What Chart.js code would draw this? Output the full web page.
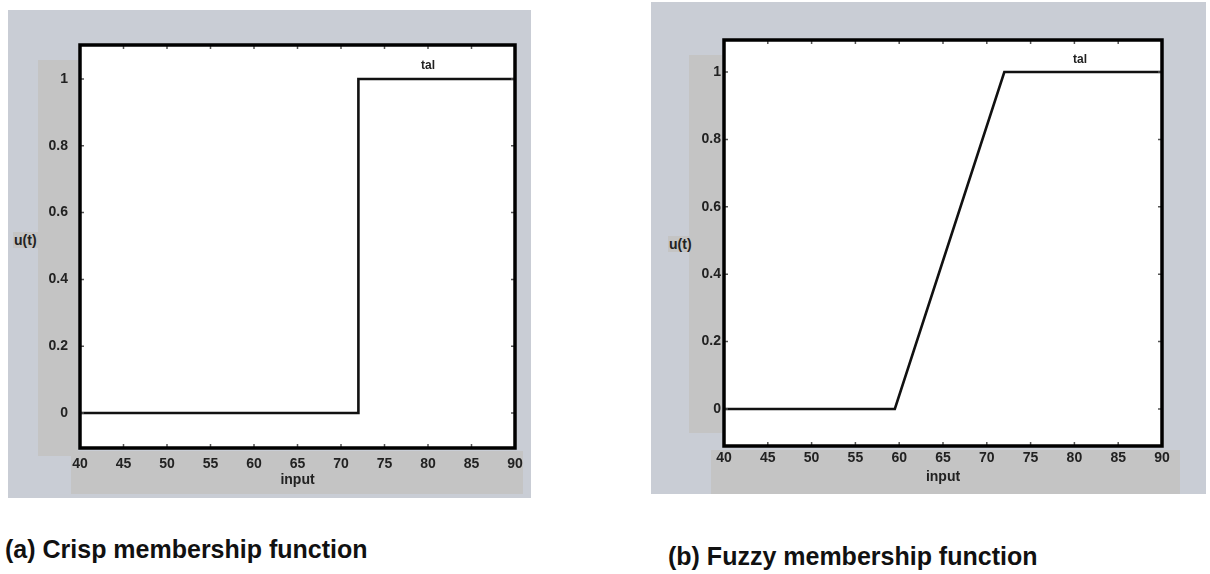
<!DOCTYPE html>
<html>
<head>
<meta charset="utf-8">
<script src="https://cdn.jsdelivr.net/npm/chart.js@4.4.1/dist/chart.umd.min.js"></script>
<style>
  html, body { margin:0; padding:0; background:#ffffff; }
  body { width:1210px; height:574px; position:relative; overflow:hidden; font-family:"Liberation Sans", Arial, sans-serif; }
  .abs { position:absolute; }
  .outer { background:#c9cdd5; }
  .strip { background:#c4c4c4; }
  .lbl { font-weight:bold; font-size:14px; color:#222; white-space:nowrap; }
  .tal { font-weight:bold; font-size:12px; color:#222; white-space:nowrap; }
  .cap { font-weight:bold; font-size:25px; color:#111; white-space:nowrap; }
  canvas { position:absolute; }
</style>
</head>
<body>
  <!-- panel (a) -->
  <div class="abs outer" style="left:8px;top:10px;width:523px;height:488px;"></div>
  <div class="abs strip" style="left:38px;top:60px;width:40px;height:396px;"></div>
  <div class="abs strip" style="left:71px;top:451px;width:452px;height:43px;"></div>
  <div class="abs lbl" style="left:13px;top:232px;background:#c4c4c4;padding:0 1px;">u(t)</div>
  <canvas id="c1" width="540" height="489" style="left:0;top:0;"></canvas>
  <div class="abs tal" style="left:421px;top:58px;">tal</div>
  <div class="abs cap" style="left:5px;top:535px;">(a) Crisp membership function</div>

  <!-- panel (b) -->
  <div class="abs outer" style="left:651px;top:2px;width:555px;height:492px;"></div>
  <div class="abs strip" style="left:689px;top:55px;width:33px;height:378px;"></div>
  <div class="abs strip" style="left:711px;top:450px;width:469px;height:44px;"></div>
  <div class="abs lbl" style="left:668px;top:236px;background:#c4c4c4;padding:0 1px;">u(t)</div>
  <canvas id="c2" width="570" height="486" style="left:640px;top:0;"></canvas>
  <div class="abs tal" style="left:1073px;top:52px;">tal</div>
  <div class="abs cap" style="left:668px;top:542px;">(b) Fuzzy membership function</div>

<script>
// ---- data ----
const xTickValues = [40, 45, 50, 55, 60, 65, 70, 75, 80, 85, 90];
const yTickValues = [0, 0.2, 0.4, 0.6, 0.8, 1];
const yTickLabels = ["0", "0.2", "0.4", "0.6", "0.8", "1"];
const crispX = [40, 72, 72, 90];
const crispY = [0, 0, 1, 1];
const fuzzyX = [40, 59.5, 72, 90];
const fuzzyY = [0, 0, 1, 1];
const xTitle = "input";

const FONT = "'Liberation Sans', Arial, sans-serif";

const framePlugin = {
  id: 'frame',
  beforeDraw(chart) {
    const {ctx, chartArea:a} = chart;
    ctx.save();
    ctx.fillStyle = '#ffffff';
    ctx.fillRect(a.left, a.top, a.right - a.left, a.bottom - a.top);
    ctx.restore();
  },
  afterDraw(chart) {
    const {ctx, chartArea:a, scales} = chart;
    ctx.save();
    ctx.strokeStyle = '#555';
    ctx.lineWidth = 1.5;
    const L = 4;
    scales.x.ticks.forEach(t => {
      const px = scales.x.getPixelForValue(t.value);
      ctx.beginPath();
      ctx.moveTo(px, a.top); ctx.lineTo(px, a.top + L);
      ctx.moveTo(px, a.bottom); ctx.lineTo(px, a.bottom - L);
      ctx.stroke();
    });
    scales.y.ticks.forEach(t => {
      const py = scales.y.getPixelForValue(t.value);
      ctx.beginPath();
      ctx.moveTo(a.left, py); ctx.lineTo(a.left + L, py);
      ctx.moveTo(a.right, py); ctx.lineTo(a.right - L, py);
      ctx.stroke();
    });
    ctx.strokeStyle = '#000';
    ctx.lineWidth = 3.5;
    ctx.strokeRect(a.left, a.top, a.right - a.left, a.bottom - a.top);
    ctx.restore();
  }
};

function makeChart(id, xs, ys, cfg) {
  const pts = xs.map((x, i) => ({x: x, y: ys[i]}));
  return new Chart(document.getElementById(id), {
    type: 'line',
    data: { datasets: [{
      label: 'tal', data: pts,
      borderColor: '#111', borderWidth: 2.6, pointRadius: 0, tension: 0, fill: false
    }]},
    options: {
      responsive: false, animation: false,
      layout: { padding: { left: 0, right: cfg.padRight, top: cfg.padTop, bottom: 0 } },
      plugins: { legend: { display: false }, tooltip: { enabled: false } },
      scales: {
        x: {
          type: 'linear', min: 40, max: 90,
          afterBuildTicks: s => { s.ticks = xTickValues.map(v => ({value: v})); },
          afterFit: s => { s.height = cfg.xHeight; },
          grid: { display: false, drawTicks: false },
          border: { display: false },
          ticks: { padding: cfg.xPad, color: '#222', font: { family: FONT, size: 14, weight: 'bold' }, maxRotation: 0 },
          title: { display: true, text: xTitle, color: '#222', padding: { top: 0, bottom: 0 }, font: { family: FONT, size: 14, weight: 'bold' } }
        },
        y: {
          type: 'linear', min: cfg.yMin, max: cfg.yMax,
          afterBuildTicks: s => { s.ticks = yTickValues.map(v => ({value: v})); },
          afterFit: s => { s.width = cfg.yWidth; },
          grid: { display: false, drawTicks: false },
          border: { display: false },
          ticks: {
            padding: cfg.yPad, color: '#222', font: { family: FONT, size: 14, weight: 'bold' },
            callback: (v) => { const i = yTickValues.indexOf(v); return i >= 0 ? yTickLabels[i] : ''; }
          }
        }
      }
    },
    plugins: [framePlugin]
  });
}

makeChart('c1', crispX, crispY, { padRight: 25, padTop: 45, xHeight: 41, yWidth: 80, yMin: -0.105, yMax: 1.102, xPad: 8, yPad: 12 });
makeChart('c2', fuzzyX, fuzzyY, { padRight: 48, padTop: 40, xHeight: 40, yWidth: 84, yMin: -0.11, yMax: 1.095, xPad: 4, yPad: 3 });
</script>
</body>
</html>
